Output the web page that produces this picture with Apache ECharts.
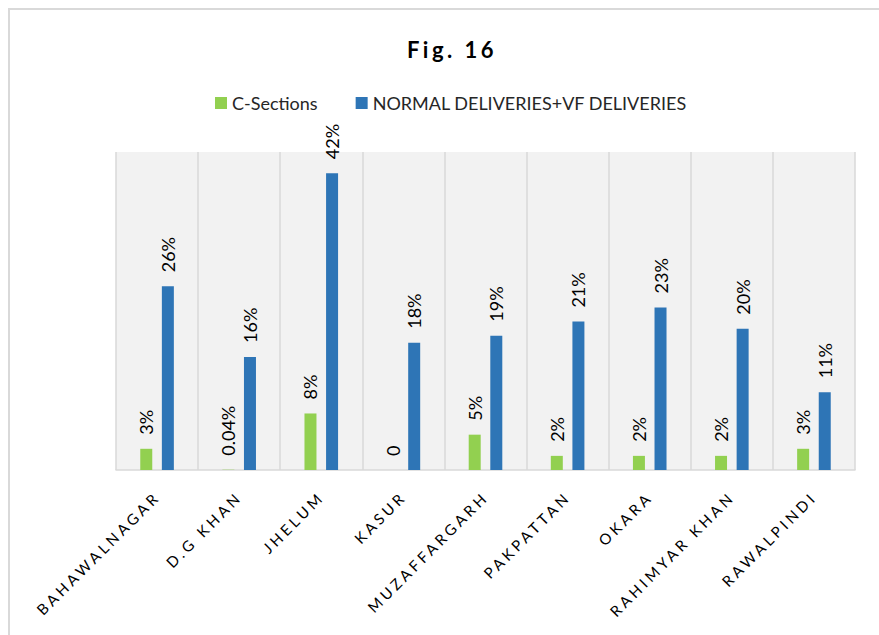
<!DOCTYPE html>
<html>
<head>
<meta charset="utf-8">
<script src="https://cdn.jsdelivr.net/npm/echarts@6/dist/echarts.min.js"></script>
<style>
  html, body { margin: 0; padding: 0; background: #fff; }
  #chart { width: 879px; height: 635px; }
</style>
</head>
<body>
<div id="chart"></div>
<script>
// districts
var districts = ['BAHAWALNAGAR', 'D.G KHAN', 'JHELUM', 'KASUR', 'MUZAFFARGARH',
  'PAKPATTAN', 'OKARA', 'RAHIMYAR KHAN', 'RAWALPINDI'];
// percentages
var cSections = [3, 0.04, 8, 0, 5, 2, 2, 2, 3];
var normalVf = [26, 16, 42, 18, 19, 21, 23, 20, 11];

var seriesNames = ['C-Sections', 'NORMAL DELIVERIES+VF DELIVERIES'];
var titleText = 'Fig. 16';

var chart = echarts.init(document.getElementById('chart'), null, { renderer: 'svg' });

var labelOpt = {
  show: true,
  position: 'top',
  rotate: 90,
  align: 'left',
  verticalAlign: 'middle',
  distance: 14,
  fontFamily: 'Lato',
  fontSize: 18,
  color: '#000',
  formatter: function (p) {
    return p.value === 0 ? '0' : p.value + '%';
  }
};

chart.setOption({
  animation: false,
  backgroundColor: '#fff',
  textStyle: { fontFamily: 'Lato' },
  graphic: [{
    type: 'rect',
    shape: { x: 9, y: 9, width: 900, height: 700 },
    style: { fill: 'none', stroke: '#d9d9d9', lineWidth: 2 },
    silent: true
  }],
  title: {
    text: titleText,
    left: 447,
    textAlign: 'center',
    top: 33,
    textStyle: { fontFamily: 'Lato', fontSize: 22, fontWeight: 'bold', color: '#000' }
  },
  legend: {
    data: seriesNames,
    left: 210,
    top: 89,
    icon: 'rect',
    itemWidth: 12,
    itemHeight: 12,
    itemGap: 38,
    textStyle: { fontFamily: 'Lato', fontSize: 18, color: '#262626' }
  },
  grid: {
    left: 116,
    right: 24,
    top: 152,
    bottom: 165,
    show: true,
    backgroundColor: '#f2f2f2',
    borderWidth: 0
  },
  xAxis: {
    type: 'category',
    data: districts,
    axisLine: { lineStyle: { color: '#d9d9d9', width: 1.5 } },
    axisTick: { show: false },
    splitLine: { show: true, lineStyle: { color: '#d9d9d9', width: 1.5 } },
    axisLabel: {
      interval: 0,
      rotate: 45,
      margin: 24,
      fontFamily: 'Lato',
      fontSize: 15,
      color: '#000'
    }
  },
  yAxis: {
    type: 'value',
    min: 0,
    max: 45,
    show: false,
    splitLine: { show: false }
  },
  series: [{
    name: seriesNames[0],
    type: 'bar',
    data: cSections,
    barWidth: 12,
    barGap: '80%',
    itemStyle: { color: '#92d050' },
    label: labelOpt
  }, {
    name: seriesNames[1],
    type: 'bar',
    data: normalVf,
    barWidth: 12,
    itemStyle: { color: '#2e75b6' },
    label: labelOpt
  }]
});

// spaced lettering on the title and district names, as in the original figure
var spaced = districts.concat([titleText]);
var texts = document.querySelectorAll('#chart svg text');
for (var i = 0; i < texts.length; i++) {
  var t = texts[i].textContent;
  if (spaced.indexOf(t) >= 0) {
    texts[i].style.letterSpacing = t === titleText ? '3.5px' : '3.5px';
  }
}
</script>
</body>
</html>
